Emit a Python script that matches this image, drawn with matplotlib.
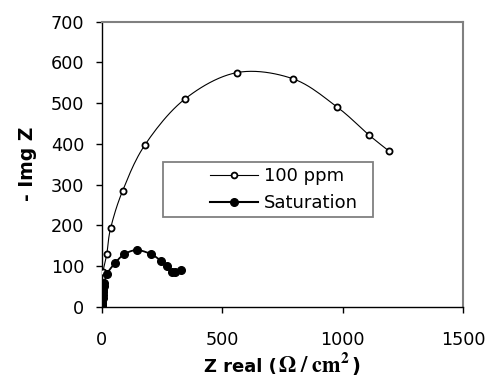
import numpy as np
import matplotlib.pyplot as plt
from matplotlib.patches import Rectangle
from matplotlib.offsetbox import TextArea, HPacker, AnchoredOffsetbox

plt.rcParams['font.family'] = ['DejaVu Sans']
plt.rcParams['mathtext.fontset'] = 'stix'

# Nyquist data
z_real_100 = [0, 2, 3, 4, 5, 21, 37, 87, 180, 345, 561, 793, 976, 1109, 1191]
z_img_100 = [0, 15, 35, 58, 85, 129, 193, 285, 398, 510, 575, 560, 491, 422, 383]

z_real_sat = [0, 1, 2, 3, 4, 5, 6, 7, 9, 11, 21, 55, 94, 146, 205, 245, 270, 291, 305, 328]
z_img_sat = [0, 5, 10, 16, 22, 28, 35, 42, 50, 58, 80, 107, 129, 139, 129, 113, 100, 85, 85, 90]

x_ticks = [0, 500, 1000, 1500]
y_ticks = [0, 100, 200, 300, 400, 500, 600, 700]


def smooth(x, y, n=12):
    # catmull-rom curve through the points, like excel's "smoothed line"
    x = np.asarray(x, float)
    y = np.asarray(y, float)
    px = np.concatenate([[x[0]], x, [x[-1]]])
    py = np.concatenate([[y[0]], y, [y[-1]]])
    t = np.linspace(0, 1, n, endpoint=False)
    xs, ys = [], []
    for i in range(1, len(px) - 2):
        for arr, out in ((px, xs), (py, ys)):
            p0, p1, p2, p3 = arr[i - 1], arr[i], arr[i + 1], arr[i + 2]
            out.extend(0.5 * (2 * p1 + (-p0 + p2) * t
                              + (2 * p0 - 5 * p1 + 4 * p2 - p3) * t ** 2
                              + (-p0 + 3 * p1 - 3 * p2 + p3) * t ** 3))
    xs.append(x[-1])
    ys.append(y[-1])
    return xs, ys


fig = plt.figure(figsize=(4.9, 3.77), dpi=100)
ax = fig.add_axes([0.2076, 0.1865, 0.7374, 0.7559])

sx, sy = smooth(z_real_100, z_img_100)
ax.plot(sx, sy, color='black', lw=0.8, zorder=2)
ax.plot(z_real_100, z_img_100, ls='none', marker='o', ms=4.4, mfc='white',
        mec='black', mew=1.3, zorder=3)

sx, sy = smooth(z_real_sat, z_img_sat)
ax.plot(sx, sy, color='black', lw=1.3, zorder=2)
ax.plot(z_real_sat, z_img_sat, ls='none', marker='o', ms=5.5, color='black', zorder=4)

# legend entries (handles only for the look)
h1, = ax.plot([], [], color='black', lw=0.8, marker='o', ms=4.2, mfc='white',
              mec='black', mew=1.3)
h2, = ax.plot([], [], color='black', lw=1.5, marker='o', ms=5.5)
leg = ax.legend([h1, h2], ['100 ppm', 'Saturation'], frameon=False,
                loc='upper left', bbox_to_anchor=(0.275, 0.522), borderpad=0,
                handlelength=2.65, handletextpad=0.33, labelspacing=0.5,
                fontsize=13)
ax.add_patch(Rectangle((0.17, 0.315), 0.581, 0.193, transform=ax.transAxes,
                       fill=False, edgecolor='#808080', lw=1.3, zorder=5))

ax.set_xlim(0, 1500)
ax.set_ylim(0, 700)
ax.set_xticks(x_ticks)
ax.set_yticks(y_ticks)

for axis in ['top', 'right']:
    ax.spines[axis].set_color('#808080')
    ax.spines[axis].set_linewidth(1.5)
for axis in ['left', 'bottom']:
    ax.spines[axis].set_linewidth(1.0)

ax.tick_params(axis='x', direction='out', length=4.5, width=1, pad=13, labelsize=12.7)
ax.tick_params(axis='y', direction='out', length=4.5, width=1, pad=8, labelsize=12.7)

# x label: sans part + larger serif unit part
xlab = HPacker(children=[
    TextArea('Z real (', textprops=dict(fontsize=13, fontweight='bold')),
    TextArea(r'$\mathbf{\Omega\ /\ cm^2}$', textprops=dict(fontsize=16)),
    TextArea(')', textprops=dict(fontsize=14, fontweight='bold')),
], align='baseline', pad=0, sep=1)
ax.add_artist(AnchoredOffsetbox(loc='center', child=xlab, frameon=False, pad=0,
                                borderpad=0, bbox_to_anchor=(0.5, -0.2),
                                bbox_transform=ax.transAxes))
ax.set_ylabel('- Img Z', fontsize=13.5, fontweight='bold', labelpad=10)

plt.savefig('out.png', dpi=100)
